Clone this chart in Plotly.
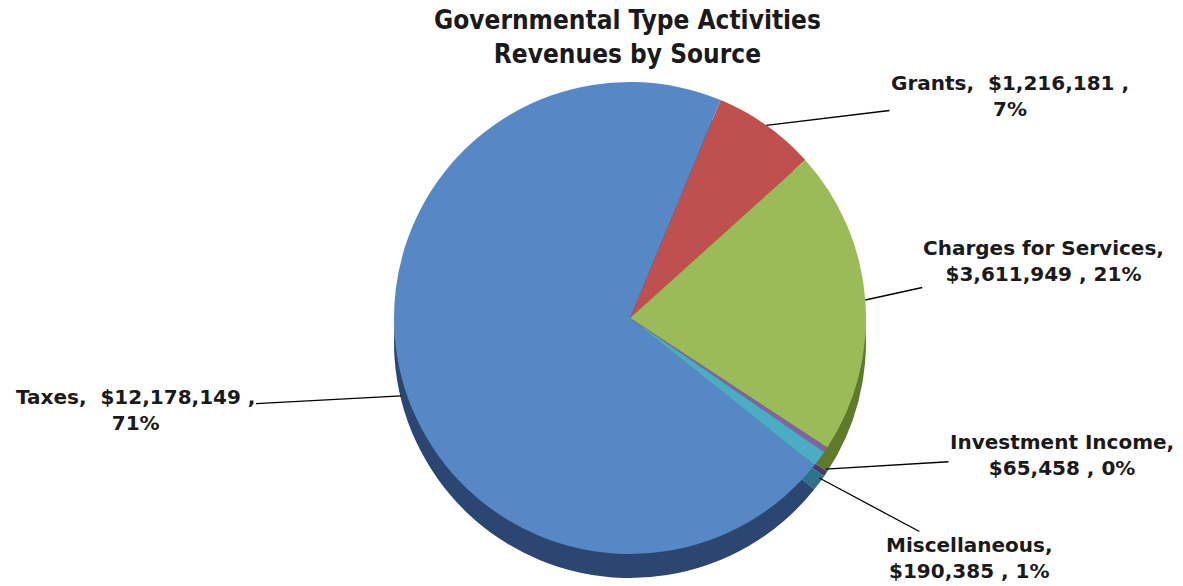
import math
import plotly.graph_objects as go

# ---- data ----
categories = ["Grants", "Charges for Services", "Investment Income", "Miscellaneous", "Taxes"]
values = [1216181, 3611949, 65458, 190385, 12178149]
top_colors = ["#C0504D", "#9BBB59", "#8064A2", "#4BACC6", "#5588C4"]
wall_colors = ["#7A2E2C", "#5E7A2A", "#4E3A6A", "#2A7388", "#2B4670"]

W, H = 1183, 586
TITLE_FONT = "DejaVu Sans Condensed, Tahoma, DejaVu Sans, sans-serif"
LABEL_FONT = "DejaVu Sans, Verdana, sans-serif"

# pie geometry (pixels)
cx, cy, r, depth = 630, 318, 236, 24
rotation = 22.6  # first slice (Grants) start, clockwise from 12 o'clock


def dom(cx, cy, r):
    return dict(x=[(cx - r) / W, (cx + r) / W], y=[1 - (cy + r) / H, 1 - (cy - r) / H])


fig = go.Figure()
fig.add_trace(go.Pie(
    labels=categories, values=values, sort=False, direction="clockwise",
    rotation=rotation, domain=dom(cx, cy + depth, r),
    marker=dict(colors=wall_colors, line=dict(width=0)),
    textinfo="none", hoverinfo="skip", showlegend=False,
))
fig.add_trace(go.Pie(
    labels=categories, values=values, sort=False, direction="clockwise",
    rotation=rotation, domain=dom(cx, cy, r),
    marker=dict(colors=top_colors, line=dict(width=0)),
    textinfo="none", hoverinfo="label+value+percent", showlegend=False,
))

# label box centres (pixels)
label_pos = {
    "Grants": (1010, 96),
    "Charges for Services": (1043, 261),
    "Investment Income": (1062, 455),
    "Miscellaneous": (969, 558),
    "Taxes": (135, 410),
}

total = sum(values)
cum = 0.0
for name, v in zip(categories, values):
    mid = rotation + (cum + v / 2) / total * 360
    cum += v
    th = math.radians(mid)
    tx = cx + r * math.sin(th)
    ty = cy - r * math.cos(th)
    if math.cos(th) < 0:
        ty += depth * 0.8
    pct = f"{round(v / total * 100)}%"
    val = f"${v:,}"
    if len(name) <= 6:
        text = f"<b>{name},\u00a0\u00a0{val} ,<br>{pct}</b>"
    else:
        text = f"<b>{name},<br>{val} , {pct}</b>"
    lx, ly = label_pos[name]
    fig.add_annotation(
        x=tx / W, y=1 - ty / H, xref="paper", yref="paper",
        ax=lx - tx, ay=ly - ty, axref="pixel", ayref="pixel",
        text=text, showarrow=True, arrowhead=0, arrowwidth=1.3, arrowcolor="#000000",
        font=dict(family=LABEL_FONT, size=20, color="#1a1a1a"), align="center",
    )

fig.add_annotation(
    text="<b>Governmental Type Activities<br>Revenues by Source</b>",
    x=627 / W, y=1 - 3 / H, xref="paper", yref="paper",
    xanchor="center", yanchor="top", showarrow=False, align="center",
    font=dict(family=TITLE_FONT, size=26, color="#1a1a1a"),
)

fig.update_layout(
    width=W, height=H,
    margin=dict(l=0, r=0, t=0, b=0),
    paper_bgcolor="white", plot_bgcolor="white",
    font=dict(family=LABEL_FONT),
)

fig.write_html(
    "out.html",
    config={"displayModeBar": False},
    post_script="document.body.style.margin='0';document.body.style.padding='0';",
)
